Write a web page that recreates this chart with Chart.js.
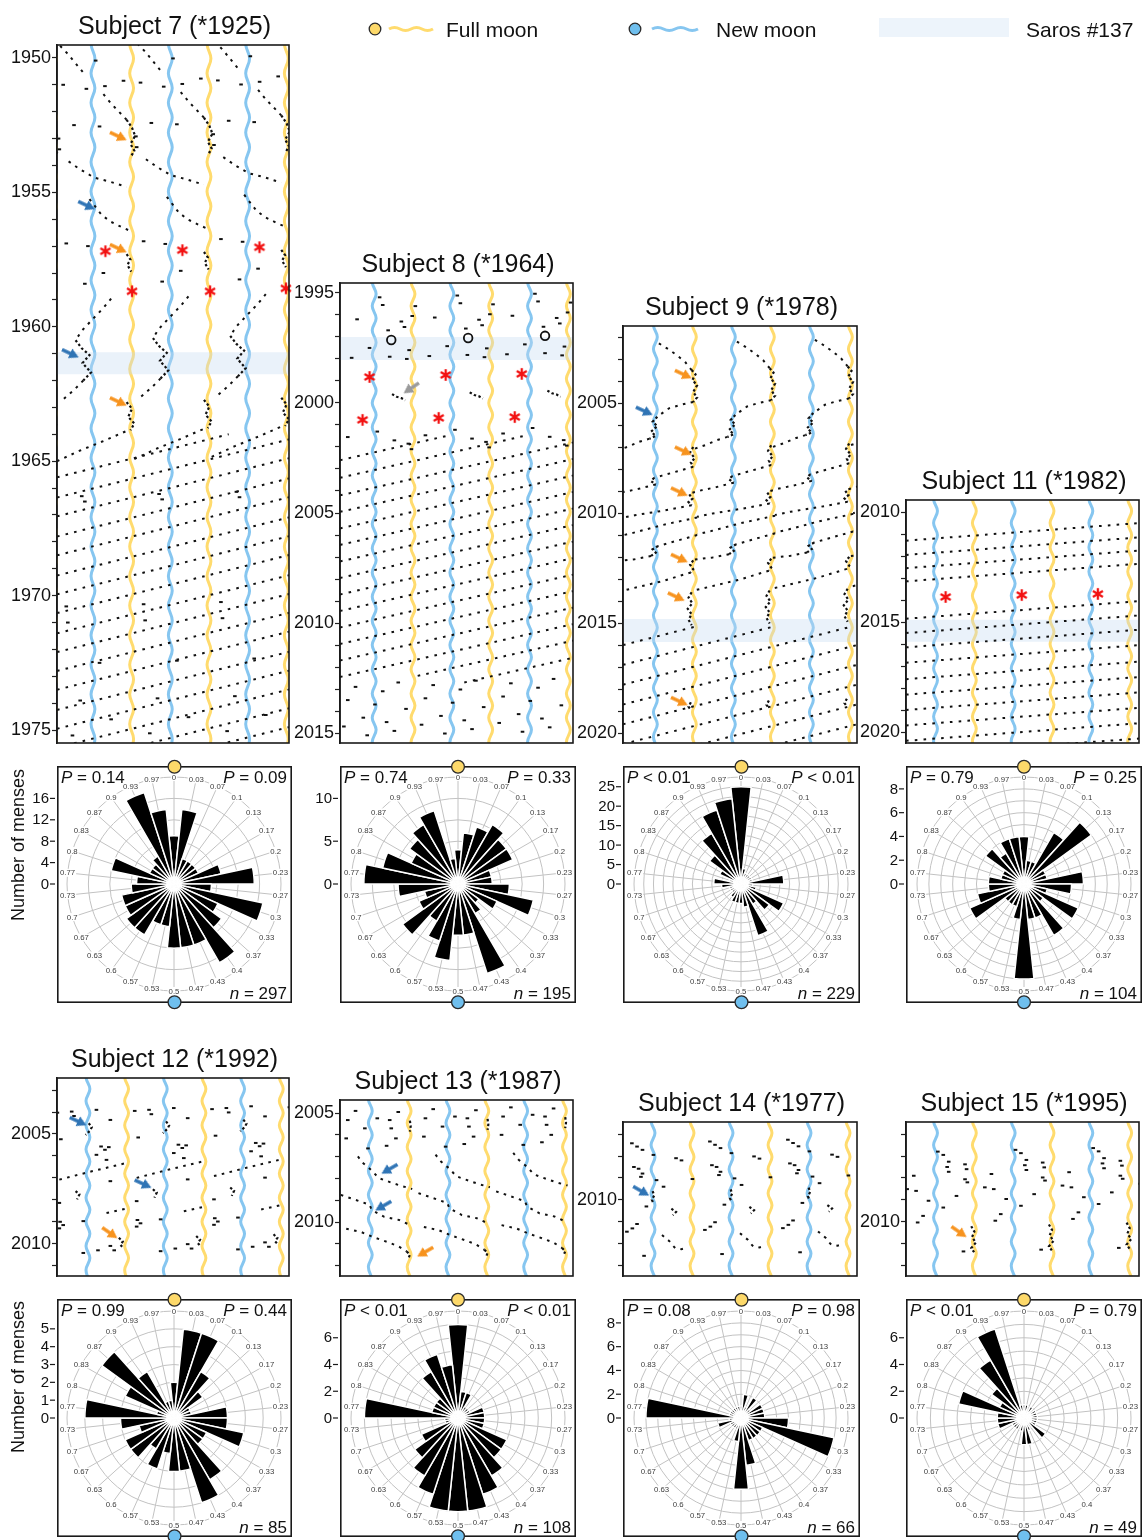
<!DOCTYPE html>
<html>
<head>
<meta charset="utf-8">
<title>Menses onset vs. lunar phase</title>
<script src="https://cdn.jsdelivr.net/npm/chart.js@4.4.1/dist/chart.umd.min.js"></script>
<style>
  html, body { margin: 0; padding: 0; background: #fff; }
  body { position: relative; width: 1142px; height: 1540px; overflow: hidden;
         font-family: "Liberation Sans", Arial, sans-serif; color: #111; }
  canvas { position: absolute; }
  .txt { position: absolute; white-space: nowrap; line-height: 1; }
</style>
</head>
<body>
<script>
// one actogram row = one synodic month, expressed in years
const MONTH = 29.53 / 365.25;
const FONT = '"Liberation Sans", Arial, sans-serif';

const phaseLabels = ["0", "0.03", "0.07", "0.1", "0.13", "0.17", "0.2", "0.23", "0.27", "0.3",
  "0.33", "0.37", "0.4", "0.43", "0.47", "0.5", "0.53", "0.57", "0.6", "0.63",
  "0.67", "0.7", "0.73", "0.77", "0.8", "0.83", "0.87", "0.9", "0.93", "0.97"];

// wiggle of the moon-phase lines (in months), alternating every ~half year
const moonWobble = [0.025, -0.025];

// ---------------- Subject 7 ----------------
const s7Years = [1949.52, 1975.48];
const s7NewMoon = 0.465;
const s7Saros = [1960.95, 1961.77];
// long free-running streaks, drawn across the whole plot
const s7Lines = [
  [[0, 1965.6], [2.22, 1964.0]], [[0, 1966.35], [3, 1964.19]], [[0, 1967.05], [3, 1964.89]],
  [[0, 1967.8], [3, 1965.64]], [[0, 1968.5], [3, 1966.34]], [[0, 1969.25], [3, 1967.09]],
  [[0, 1969.95], [3, 1967.79]], [[0, 1970.65], [3, 1968.49]], [[0, 1971.4], [3, 1969.24]],
  [[0, 1972.1], [3, 1969.94]], [[0, 1972.8], [3, 1970.64]], [[0, 1973.5], [3, 1971.34]],
  [[0, 1974.25], [3, 1972.09]], [[0, 1974.95], [3, 1972.79]], [[0, 1975.65], [3, 1973.49]],
  [[0, 1976.35], [3, 1974.19]], [[0, 1977.05], [3, 1974.89]], [[0, 1977.75], [3, 1975.59]]
];
// chains in first-column coordinates (repeated in every column of the triple plot)
const s7Tracks = [
  [[0.04, 1949.55], [0.14, 1949.85], [0.24, 1950.2], [0.34, 1950.55]],
  [[0.6, 1951.35], [0.7, 1951.7], [0.8, 1952.0], [0.9, 1952.3]],
  [[0.15, 1953.85], [0.3, 1954.15], [0.48, 1954.45], [0.68, 1954.6], [0.9, 1954.8]],
  [[0.42, 1955.25], [0.5, 1955.55], [0.58, 1955.85], [0.7, 1956.1], [0.84, 1956.3], [0.96, 1956.45]],
  [[0.7, 1958.95], [0.6, 1959.3], [0.45, 1959.75], [0.32, 1960.15], [0.24, 1960.5]],
  [[0.34, 1962.0], [0.22, 1962.35], [0.06, 1962.75]],
  [[0.0, 1965.0], [0.3, 1964.6], [0.6, 1964.25], [0.92, 1963.85]]
];
const s7Locks = [
  [[0.9, 1952.3], [0.97, 1952.6], [1.01, 1952.9], [0.95, 1953.2], [1.0, 1953.45], [0.96, 1953.65]],
  [[0.9, 1957.3], [0.95, 1957.5], [0.91, 1957.7], [0.96, 1957.95]],
  [[0.24, 1960.5], [0.32, 1960.8], [0.42, 1961.05], [0.33, 1961.35], [0.44, 1961.7], [0.34, 1962.0]],
  [[0.9, 1962.8], [0.97, 1963.05], [0.92, 1963.35], [1.0, 1963.6], [0.95, 1963.85]]
];
const s7Spots = [[0.08, 1951.0], [0.38, 1951.15], [0.86, 1950.85], [0.22, 1952.5], [0.4, 1957.0],
  [0.36, 1958.4], [0.32, 1966.3], [0.36, 1966.5], [0.12, 1970.4], [0.14, 1971.0], [0.55, 1972.5],
  [0.3, 1973.9], [0.7, 1974.6], [0.2, 1975.2], [0.02, 1953.0], [0.03, 1953.4], [0.55, 1952.55],
  [0.12, 1956.9], [0.6, 1958.0], [0.5, 1950.1], [0.62, 1951.05]];
const s7Stars = [[0.626, 1957.19], [1.622, 1957.15], [2.618, 1957.04], [0.97, 1958.68], [1.98, 1958.68], [2.96, 1958.57]];
const s7Arrows = [[0.79, 1952.91, 25, "orange"], [0.79, 1957.08, 25, "orange"], [0.79, 1962.78, 25, "orange"],
  [0.38, 1955.48, 25, "blue"], [0.17, 1960.99, 25, "blue"]];
const s7Rose = [9, 14, 5, 5, 5, 5, 9, 15, 7, 17, 9, 11, 17, 12, 12, 12, 8, 8, 11, 11, 10, 10, 8, 7, 12, 5, 5, 6, 18, 14];
const s7RoseTicks = [0, 4, 8, 12, 16];

// ---------------- Subject 8 ----------------
const s8Years = [1994.55, 2015.45];
const s8NewMoon = 0.44;
const s8Saros = [1997.0, 1998.05];
const s8Lines = [
  [[0, 2002.6], [1.37, 2001.5]], [[0, 2003.4], [2.37, 2001.5]], [[0, 2004.2], [3, 2001.8]],
  [[0, 2004.95], [3, 2002.55]], [[0, 2005.7], [3, 2003.3]], [[0, 2006.45], [3, 2004.05]],
  [[0, 2007.2], [3, 2004.8]], [[0, 2007.95], [3, 2005.55]], [[0, 2008.7], [3, 2006.3]],
  [[0, 2009.45], [3, 2007.05]], [[0, 2010.2], [3, 2007.8]], [[0, 2010.95], [3, 2008.55]],
  [[0, 2011.7], [3, 2009.3]], [[0, 2012.45], [3, 2010.05]], [[1.0, 2012.4], [3, 2010.8]],
  [[1.6, 2012.7], [3, 2011.58]]
];
const s8Tracks = [];
const s8Locks = [[[0.67, 1999.6], [0.73, 1999.72], [0.79, 1999.78], [0.84, 1999.88]]];
const s8Spots = [[0.51, 1995.2], [0.55, 1995.55], [0.22, 1996.2], [0.79, 1996.3], [0.93, 1996.05],
  [0.83, 1996.55], [0.38, 1997.5], [0.64, 1997.9], [0.86, 1998.0], [0.89, 1997.6], [0.1, 2001.55],
  [0.7, 2001.7], [0.88, 2001.85], [0.92, 2002.1], [0.2, 2012.9], [0.55, 2013.1], [0.75, 2012.7],
  [0.1, 2013.5], [0.45, 2013.7], [0.85, 2013.9], [0.3, 2014.3], [0.6, 2014.5], [0.05, 2014.7],
  [0.7, 2014.9], [0.35, 2015.1], [0.97, 1995.6], [0.62, 1996.7], [0.15, 1997.95], [0.48, 2001.3]];
const s8Rings = [[0.66, 1997.14], [1.65, 1997.05], [2.64, 1996.95]];
const s8Stars = [[0.38, 1998.82], [1.36, 1998.73], [2.34, 1998.68], [0.29, 2000.77], [1.27, 2000.68], [2.25, 2000.64]];
const s8Arrows = [[0.92, 1999.32, 146, "gray"]];
const s8Rose = [4, 6, 7, 8, 7, 7, 4, 4, 6, 9, 5, 3, 4, 11, 6, 6, 9, 7, 5, 8, 5, 4, 7, 11, 9, 6, 7, 8, 9, 3];
const s8RoseTicks = [0, 5, 10];

// ---------------- Subject 9 ----------------
const s9Years = [2001.5, 2020.45];
const s9NewMoon = 0.415;
const s9Saros = [2014.82, 2015.86];
const s9Lines = [
  [[0, 2016.0], [0.94, 2015.15]], [[0, 2016.9], [1.94, 2015.15]], [[0, 2017.8], [2.94, 2015.15]],
  [[0, 2018.7], [3, 2016.0]], [[0, 2019.6], [3, 2016.9]], [[0, 2020.5], [3, 2017.8]],
  [[0, 2021.4], [3, 2018.7]], [[0, 2022.3], [3, 2019.6]], [[0, 2023.2], [3, 2020.5]]
];
const s9Tracks = [
  [[0.46, 2002.29], [0.58, 2002.55], [0.7, 2002.85], [0.8, 2003.15], [0.88, 2003.5]],
  [[0.9, 2004.95], [0.72, 2005.1], [0.59, 2005.24], [0.44, 2005.62]],
  [[0.34, 2006.62], [0.21, 2006.76], [0.06, 2006.99], [-0.1, 2007.18]],
  [[0.9, 2007.9], [0.7, 2008.1], [0.5, 2008.3], [0.4, 2008.4]],
  [[0.42, 2008.7], [0.2, 2008.9], [0.0, 2009.05], [-0.15, 2009.2]],
  [[0.88, 2009.65], [0.5, 2009.9], [0.15, 2010.1], [-0.05, 2010.25]],
  [[0.95, 2010.2], [0.5, 2010.55], [0.13, 2010.9], [-0.05, 2011.05]],
  [[0.95, 2011.0], [0.7, 2011.25], [0.45, 2011.5]],
  [[0.36, 2011.95], [0.15, 2012.1], [-0.1, 2012.2]],
  [[0.87, 2012.7], [0.5, 2013.1], [0.03, 2013.5], [-0.1, 2013.6]]
];
const s9Locks = [
  [[0.88, 2003.5], [0.93, 2003.7], [0.89, 2003.95], [0.95, 2004.2], [0.9, 2004.5], [0.95, 2004.75], [0.9, 2004.95]],
  [[0.44, 2005.62], [0.38, 2005.85], [0.44, 2006.05], [0.36, 2006.3], [0.42, 2006.5], [0.34, 2006.62]],
  [[0.9, 2007.0], [0.86, 2007.25], [0.92, 2007.5], [0.87, 2007.7], [0.9, 2007.9]],
  [[0.4, 2008.4], [0.36, 2008.55], [0.42, 2008.7]],
  [[0.85, 2009.15], [0.89, 2009.35], [0.84, 2009.5], [0.88, 2009.65]],
  [[0.45, 2011.5], [0.38, 2011.65], [0.42, 2011.8], [0.36, 2011.95]],
  [[0.9, 2012.15], [0.86, 2012.35], [0.9, 2012.55], [0.87, 2012.7]],
  [[0.88, 2013.6], [0.84, 2013.85], [0.89, 2014.1], [0.83, 2014.35], [0.88, 2014.6], [0.84, 2014.85], [0.88, 2015.1]],
  [[0.87, 2018.6], [0.84, 2018.8], [0.87, 2018.95]]
];
const s9Spots = [];
const s9Arrows = [[0.27, 2005.36, 25, "blue"], [0.77, 2003.69, 25, "orange"], [0.77, 2007.17, 25, "orange"],
  [0.72, 2009.03, 25, "orange"], [0.72, 2012.05, 25, "orange"], [0.68, 2013.8, 25, "orange"], [0.72, 2018.55, 25, "orange"]];
const s9Rose = [25, 4, 3, 3, 3, 3, 3, 11, 3, 4, 12, 9, 6, 14, 6, 5, 5, 5, 4, 3, 3, 3, 5, 7, 3, 6, 10, 15, 20, 22];
const s9RoseTicks = [0, 5, 10, 15, 20, 25];

// ---------------- Subject 11 ----------------
const s11Years = [2009.45, 2020.5];
const s11NewMoon = 0.38;
const s11Saros = [2014.9, 2015.9];
const s11Lines = [
  [[0, 2011.3], [3, 2010.5]], [[0, 2011.95], [3, 2011.15]], [[0, 2012.55], [3, 2011.75]], [[0, 2013.15], [3, 2012.35]],
  [[0, 2014.85], [3, 2014.05]], [[0, 2015.5], [3, 2014.7]], [[0, 2016.15], [3, 2015.35]], [[0, 2016.85], [3, 2016.05]],
  [[0, 2017.6], [3, 2016.8]], [[0, 2018.3], [3, 2017.5]], [[0, 2019.0], [3, 2018.2]], [[0, 2019.7], [3, 2018.9]],
  [[0, 2020.4], [3, 2019.6]], [[0.6, 2020.9], [3, 2020.3]]
];
const s11Stars = [[0.51, 2013.86], [1.49, 2013.77], [2.47, 2013.72]];
const s11Rose = [4, 2, 2, 5, 7, 2, 2, 5, 4, 2, 5, 2, 5, 3, 3, 8, 3, 2, 2, 2, 5, 4, 3, 3, 2, 2, 4, 3, 4, 4];
const s11RoseTicks = [0, 2, 4, 6, 8];

// ---------------- Subject 12 ----------------
const s12Years = [2002.45, 2011.47];
const s12NewMoon = 0.4;
const s12Tracks = [
  [[0.03, 2007.08], [0.45, 2006.7], [0.9, 2006.32]],
  [[0.64, 2008.6], [0.9, 2008.4]]
];
const s12Locks = [
  [[0.41, 2004.51], [0.45, 2004.69], [0.43, 2004.84], [0.37, 2005.04]],
  [[0.24, 2007.6], [0.29, 2007.75], [0.26, 2007.98]],
  [[0.8, 2009.73], [0.85, 2009.9], [0.82, 2010.05], [0.86, 2010.2]]
];
const s12Spots = [[0.005, 2004.03], [0.19, 2003.98], [0.22, 2004.18], [0.51, 2003.9], [0.69, 2004.36],
  [0.05, 2005.24], [0.57, 2005.57], [0.62, 2005.72], [0.67, 2005.6], [0.51, 2005.95], [0.64, 2006.18],
  [0.03, 2008.14], [0.69, 2007.15], [0.34, 2008.97], [0.04, 2009.0], [0.08, 2009.15], [0.03, 2009.3],
  [0.34, 2010.42], [0.53, 2010.3], [0.69, 2010.1], [0.74, 2010.3]];
const s12Arrows = [[0.27, 2004.42, 25, "blue"], [1.11, 2007.27, 25, "blue"], [0.68, 2009.5, 35, "orange"]];
const s12Rose = [2, 5, 5, 3, 2, 1, 1, 3, 3, 4, 2, 2, 4, 5, 3, 3, 2, 3, 2, 3, 3, 2, 3, 5, 1, 3, 5, 3, 1, 1];
const s12RoseTicks = [0, 1, 2, 3, 4, 5];

// ---------------- Subject 13 ----------------
const s13Years = [2004.4, 2012.47];
const s13NewMoon = 0.39;
const s13Tracks = [
  [[0.23, 2006.99], [0.3, 2007.3], [0.4, 2007.6], [0.5, 2007.98], [0.67, 2008.2], [0.8, 2008.35], [0.93, 2008.48]],
  [[0.01, 2008.75], [0.2, 2008.98], [0.38, 2009.2], [0.41, 2009.45], [0.57, 2009.76], [0.76, 2009.9], [0.9, 2010.13]],
  [[0.08, 2010.3], [0.27, 2010.45], [0.43, 2010.69], [0.6, 2010.9], [0.75, 2011.1], [0.86, 2011.35]]
];
const s13Locks = [
  [[0.86, 2011.35], [0.9, 2011.5], [0.88, 2011.67]],
  [[0.9, 2005.35], [0.91, 2005.6], [0.9, 2005.85]]
];
const s13Spots = [[0.1, 2005.32], [0.32, 2005.7], [0.48, 2005.24], [0.64, 2005.32], [0.66, 2005.7],
  [0.72, 2006.16], [0.08, 2006.16], [0.36, 2006.62], [0.6, 2006.5], [0.2, 2004.9], [0.75, 2004.95]];
const s13Arrows = [[0.64, 2007.56, 150, "blue"], [0.56, 2009.25, 150, "blue"], [1.1, 2011.36, 150, "orange"]];
const s13Rose = [7, 2, 2, 1, 1, 1, 2, 2, 2, 2, 4, 4, 5, 6, 7, 7, 7, 6, 5, 4, 3, 1, 1, 7, 2, 2, 2, 4, 5, 4];
const s13RoseTicks = [0, 2, 4, 6];

// ---------------- Subject 14 ----------------
const s14Years = [2006.45, 2013.47];
const s14NewMoon = 0.385;
const s14Tracks = [[[0.5, 2011.6], [0.55, 2011.75], [0.6, 2011.9], [0.63, 2012.05], [0.67, 2012.2], [0.75, 2012.25], [0.8, 2012.2]]];
const s14Locks = [
  [[0.38, 2009.6], [0.4, 2009.8], [0.37, 2010.0], [0.39, 2010.15]],
  [[0.62, 2010.4], [0.68, 2010.55], [0.64, 2010.7]]
];
const s14Spots = [[0.114, 2007.42], [0.18, 2007.57], [0.25, 2007.72], [0.39, 2007.95], [0.68, 2008.1],
  [0.75, 2008.2], [0.14, 2008.5], [0.2, 2008.58], [0.25, 2008.8], [0.23, 2008.95], [0.43, 2009.1],
  [0.52, 2009.4], [0.3, 2010.3], [0.05, 2011.45], [0.12, 2011.3], [0.18, 2011.1], [0.27, 2012.55], [0.89, 2009.05]];
const s14Arrows = [[0.23, 2009.59, 30, "blue"]];
const s14Rose = [1, 2, 1, 2, 1, 2, 2, 2, 4, 8, 2, 2, 2, 2, 4, 6, 2, 1, 1, 1, 1, 2, 1, 8, 1, 1, 1, 1, 1, 1];
const s14RoseTicks = [0, 2, 4, 6, 8];

// ---------------- Subject 15 ----------------
const s15Years = [2005.45, 2012.47];
const s15NewMoon = 0.38;
const s15Locks = [[[0.84, 2010.2], [0.88, 2010.45], [0.85, 2010.7], [0.9, 2010.95], [0.84, 2011.2], [0.88, 2011.4]]];
const s15Spots = [[0.41, 2006.8], [0.48, 2006.95], [0.55, 2007.26], [0.53, 2007.5], [0.55, 2007.72],
  [0.76, 2007.38], [0.78, 2007.6], [0.76, 2008.06], [0.79, 2008.2], [0.1, 2007.9], [0.015, 2008.51],
  [0.13, 2008.59], [0.29, 2009.04], [0.65, 2008.82], [0.48, 2009.35], [0.22, 2009.73], [0.15, 2010.03], [0.74, 2011.35]];
const s15Arrows = [[0.68, 2010.45, 35, "orange"]];
const s15Rose = [1, 1, 0, 1, 0, 1, 1, 1, 1, 1, 1, 2, 0, 1, 2, 2, 1, 0, 1, 1, 1, 2, 2, 2, 5, 2, 3, 5, 7, 1];
const s15RoseTicks = [0, 2, 4, 6];

// ---------------- panel table ----------------
const subjects = [
  { box: [57, 45, 235, 698], roseTop: 766, roseH: 237, title: "Subject 7 (*1925)",
    years: s7Years, newMoon: s7NewMoon, saros: s7Saros, lines: s7Lines, tracks: s7Tracks, locks: s7Locks,
    spots: s7Spots, stars: s7Stars, arrows: s7Arrows,
    rose: s7Rose, roseMax: 20, roseStep: 4, roseTicks: s7RoseTicks, pL: "= 0.14", pR: "= 0.09", n: 297 },
  { box: [340, 283, 236, 460], roseTop: 766, roseH: 237, title: "Subject 8 (*1964)",
    years: s8Years, newMoon: s8NewMoon, saros: s8Saros, lines: s8Lines, tracks: s8Tracks, locks: s8Locks,
    spots: s8Spots, rings: s8Rings, stars: s8Stars, arrows: s8Arrows,
    rose: s8Rose, roseMax: 12.5, roseStep: 2.5, roseTicks: s8RoseTicks, pL: "= 0.74", pR: "= 0.33", n: 195 },
  { box: [623, 326, 237, 417], roseTop: 766, roseH: 237, title: "Subject 9 (*1978)",
    years: s9Years, newMoon: s9NewMoon, saros: s9Saros, lines: s9Lines, tracks: s9Tracks, locks: s9Locks,
    spots: s9Spots, arrows: s9Arrows,
    rose: s9Rose, roseMax: 27.5, roseStep: 2.5, roseTicks: s9RoseTicks, pL: "&lt; 0.01", pR: "&lt; 0.01", n: 229 },
  { box: [906, 500, 236, 243], roseTop: 766, roseH: 237, title: "Subject 11 (*1982)",
    years: s11Years, newMoon: s11NewMoon, saros: s11Saros, lines: s11Lines, stars: s11Stars,
    rose: s11Rose, roseMax: 9, roseStep: 1, roseTicks: s11RoseTicks, pL: "= 0.79", pR: "= 0.25", n: 104 },
  { box: [57, 1078, 235, 198], roseTop: 1299, roseH: 238, title: "Subject 12 (*1992)",
    years: s12Years, newMoon: s12NewMoon, tracks: s12Tracks, locks: s12Locks, spots: s12Spots, arrows: s12Arrows,
    rose: s12Rose, roseMax: 6, roseStep: 1, roseTicks: s12RoseTicks, pL: "= 0.99", pR: "= 0.44", n: 85 },
  { box: [340, 1100, 236, 176], roseTop: 1299, roseH: 238, title: "Subject 13 (*1987)",
    years: s13Years, newMoon: s13NewMoon, tracks: s13Tracks, locks: s13Locks, spots: s13Spots, arrows: s13Arrows,
    rose: s13Rose, roseMax: 8, roseStep: 1, roseTicks: s13RoseTicks, pL: "&lt; 0.01", pR: "&lt; 0.01", n: 108 },
  { box: [623, 1122, 237, 154], roseTop: 1299, roseH: 238, title: "Subject 14 (*1977)",
    years: s14Years, newMoon: s14NewMoon, tracks: s14Tracks, locks: s14Locks, spots: s14Spots, arrows: s14Arrows,
    rose: s14Rose, roseMax: 9, roseStep: 1, roseTicks: s14RoseTicks, pL: "= 0.08", pR: "= 0.98", n: 66 },
  { box: [906, 1122, 236, 154], roseTop: 1299, roseH: 238, title: "Subject 15 (*1995)",
    years: s15Years, newMoon: s15NewMoon, locks: s15Locks, spots: s15Spots, arrows: s15Arrows,
    rose: s15Rose, roseMax: 8, roseStep: 1, roseTicks: s15RoseTicks, pL: "&lt; 0.01", pR: "= 0.79", n: 49 }
];

const COLORS = { blueLine: "#86c6f0", yellowLine: "#ffdb6e", band: "rgba(196,219,242,0.36)",
  orange: "#f7931e", blue: "#2f74b5", gray: "#9a9a9a", dot: "#111" };

// ---------------- helpers ----------------
function makeCanvas(left, top, w, h) {
  const c = document.createElement("canvas");
  c.width = w; c.height = h;
  Object.assign(c.style, { left: left + "px", top: top + "px", width: w + "px", height: h + "px" });
  document.body.appendChild(c);
  return c;
}

function addText(html, x, baseline, size, align, extra) {
  const d = document.createElement("div");
  d.className = "txt";
  d.innerHTML = html;
  d.style.fontSize = size + "px";
  d.style.top = (baseline - 0.8465 * size) + "px";
  if (align === "center") { d.style.left = x + "px"; d.style.transform = "translateX(-50%)"; }
  else if (align === "right") { d.style.right = (1142 - x) + "px"; }
  else { d.style.left = x + "px"; }
  if (extra) Object.assign(d.style, extra);
  document.body.appendChild(d);
  return d;
}

const TRIPLE = [-1, 0, 1, 2, 3];

// polylines -> one dataset with null gaps; ks = column copies of the triple plot
function polyData(polys, ks) {
  const out = [];
  ks.forEach(k => {
    (polys || []).forEach(poly => {
      poly.forEach(([p, yr]) => out.push({ x: p + k, y: yr - k * MONTH }));
      out.push({ x: null, y: null });
    });
  });
  return out;
}

function pointData(points, ks) {
  const out = [];
  ks.forEach(k => (points || []).forEach(([p, yr]) => out.push({ x: p + k, y: yr - k * MONTH })));
  return out;
}

function moonLine(phase, years) {
  const out = [];
  for (let k = -1; k <= 3; k++) {
    let i = 0;
    for (let yr = years[0] - 0.6; yr <= years[1] + 0.6; yr += 0.55, i++) {
      out.push({ x: phase + k + moonWobble[i % 2], y: yr });
    }
    out.push({ x: null, y: null });
  }
  return out;
}

function makeStar() {
  const c = document.createElement("canvas");
  c.width = c.height = 14;
  const g = c.getContext("2d");
  g.strokeStyle = "#f21212"; g.lineWidth = 2.3;
  for (let i = 0; i < 3; i++) {
    const a = Math.PI / 2 + i * Math.PI / 3;
    g.beginPath();
    g.moveTo(7 - 5.8 * Math.cos(a), 7 - 5.8 * Math.sin(a));
    g.lineTo(7 + 5.8 * Math.cos(a), 7 + 5.8 * Math.sin(a));
    g.stroke();
  }
  return c;
}

function makeArrow(color) {
  const c = document.createElement("canvas");
  c.width = 20; c.height = 12;
  const g = c.getContext("2d");
  g.fillStyle = color;
  g.fillRect(1, 4.3, 11, 3.4);
  g.beginPath(); g.moveTo(19.5, 6); g.lineTo(10, 0.8); g.lineTo(10, 11.2); g.closePath(); g.fill();
  return c;
}

const starImg = makeStar();
const arrowImg = { orange: makeArrow(COLORS.orange), blue: makeArrow(COLORS.blue), gray: makeArrow(COLORS.gray) };

const framePlugin = {
  id: "frame",
  afterDatasetsDraw(chart) {
    const a = chart.chartArea, g = chart.ctx;
    g.save();
    g.strokeStyle = "#1a1a1a"; g.lineWidth = 1.6;
    g.strokeRect(a.left, a.top, a.right - a.left, a.bottom - a.top);
    g.restore();
  }
};

// ---------------- actogram ----------------
function drawActogram(s) {
  const [bx, by, bw, bh] = s.box;
  const AX = 52, PT = 12, PB = 12, PR = 4;
  const c = makeCanvas(bx - AX, by - PT, bw + AX + PR, bh + PT + PB);
  const datasets = [];

  datasets.push({ data: moonLine(s.newMoon, s.years), borderColor: COLORS.blueLine, borderWidth: 3,
    pointRadius: 0, tension: 0.4, spanGaps: false, clip: 0, order: 5 });
  datasets.push({ data: moonLine(s.newMoon + 0.5, s.years), borderColor: COLORS.yellowLine, borderWidth: 3,
    pointRadius: 0, tension: 0.4, spanGaps: false, clip: 0, order: 5 });

  if (s.saros) {
    datasets.push({ data: [{ x: 0, y: s.saros[0] }, { x: 3, y: s.saros[0] }], fill: { value: s.saros[1] },
      backgroundColor: COLORS.band, borderColor: "transparent", borderWidth: 0, pointRadius: 0, clip: 0, order: 4 });
  }

  const dotLine = { borderColor: COLORS.dot, pointRadius: 0, tension: 0, spanGaps: false, clip: 0, order: 2, fill: false };
  datasets.push(Object.assign({ data: polyData(s.lines, [0]), borderWidth: 2, borderDash: [2.6, 6.2] }, dotLine));
  datasets.push(Object.assign({ data: polyData(s.tracks, TRIPLE), borderWidth: 2, borderDash: [2.6, 5.4] }, dotLine));
  datasets.push(Object.assign({ data: polyData(s.locks, TRIPLE), borderWidth: 2.2, borderDash: [2.4, 2.4] }, dotLine));
  datasets.push({ data: pointData(s.spots, TRIPLE), showLine: false, pointStyle: "line", pointRadius: 1.8,
    pointBorderWidth: 2, pointBorderColor: COLORS.dot, clip: 0, order: 2 });

  if (s.rings) {
    datasets.push({ data: s.rings.map(([x, y]) => ({ x, y })), showLine: false, pointStyle: "circle", pointRadius: 4.3,
      pointBorderWidth: 1.8, pointBorderColor: "#111", pointBackgroundColor: "rgba(255,255,255,0)", order: 1, clip: false });
  }
  if (s.stars) {
    datasets.push({ data: s.stars.map(([x, y]) => ({ x, y })), showLine: false, pointStyle: starImg,
      pointRadius: 6, order: 0, clip: false });
  }
  ["orange", "blue", "gray"].forEach(col => {
    const list = (s.arrows || []).filter(a => a[3] === col);
    if (!list.length) return;
    datasets.push({ data: list.map(([x, y, r]) => ({ x, y, r })), showLine: false, pointStyle: arrowImg[col],
      pointRadius: 6, pointRotation: ctx => (ctx.raw ? ctx.raw.r : 0), order: 0, clip: false });
  });

  new Chart(c, {
    type: "line",
    data: { datasets },
    options: {
      responsive: false, animation: false, events: [],
      layout: { padding: { top: PT, bottom: PB, right: PR, left: 0 } },
      plugins: { legend: { display: false }, tooltip: { enabled: false } },
      scales: {
        x: { type: "linear", min: 0, max: 3, display: false },
        y: {
          type: "linear", reverse: true, min: s.years[0], max: s.years[1],
          afterFit: sc => { sc.width = AX; },
          ticks: {
            stepSize: 1, includeBounds: false, autoSkip: false, padding: 1, color: "#111",
            font: { size: 18, family: FONT },
            callback: v => (Math.abs(v - Math.round(v)) < 1e-6 && Math.round(v) % 5 === 0) ? String(Math.round(v)) : ""
          },
          grid: { drawOnChartArea: false, tickLength: 5, tickColor: "#222", tickWidth: 1.2 },
          border: { display: true, color: "#1a1a1a", width: 1.6 }
        }
      }
    },
    plugins: [framePlugin]
  });

  addText(s.title, bx + bw / 2, by - 11, 25, "center");
}

// ---------------- rose diagram ----------------
function moonDot(g, x, y, fill) {
  g.beginPath(); g.arc(x, y, 6.4, 0, Math.PI * 2);
  g.fillStyle = fill; g.fill();
  g.lineWidth = 1.3; g.strokeStyle = "#2a2a2a"; g.stroke();
}

function drawRose(s) {
  const [bx, , bw] = s.box;
  const top = s.roseTop, rh = s.roseH;
  const LX = 48, TY = 8, R = 107;
  const c = makeCanvas(bx - LX, top - TY, bw + LX, rh + 2 * TY);
  const padX = (bw - 2 * R) / 2, padY = (rh - 2 * R) / 2;

  const decor = {
    id: "roseDecor",
    beforeDatasetsDraw(chart) {
      const sc = chart.scales.rg, g = chart.ctx;
      g.save();
      g.font = "7.8px " + FONT; g.textAlign = "center"; g.textBaseline = "middle";
      phaseLabels.forEach((lab, i) => {
        const pos = sc.getPointPosition(i, sc.drawingArea);
        const tw = g.measureText(lab).width;
        g.fillStyle = "#fff"; g.fillRect(pos.x - tw / 2 - 1, pos.y - 4, tw + 2, 8);
        g.fillStyle = "#3c3c3c"; g.fillText(lab, pos.x, pos.y + 0.5);
      });
      g.restore();
    },
    afterDraw(chart) {
      const sc = chart.scales.rg, g = chart.ctx;
      g.save();
      g.strokeStyle = "#1a1a1a"; g.lineWidth = 1.6;
      g.strokeRect(LX + 0.8, TY + 0.8, bw - 1.6, rh - 1.6);
      g.font = "15px " + FONT; g.textAlign = "right"; g.textBaseline = "middle"; g.fillStyle = "#111";
      g.lineWidth = 1.2;
      s.roseTicks.forEach(v => {
        const y = sc.yCenter - sc.getDistanceFromCenterForValue(v);
        g.fillText(String(v), LX - 8, y + 0.5);
        g.beginPath(); g.moveTo(LX - 7, y); g.lineTo(LX - 2, y); g.stroke();
      });
      const cx = LX + bw / 2;
      moonDot(g, cx, TY + 0.8, "#fdd96a");
      moonDot(g, cx, TY + rh - 0.8, "#6fbfee");
      g.restore();
    }
  };

  new Chart(c, {
    type: "polarArea",
    data: {
      labels: phaseLabels,
      datasets: [{ data: s.rose, backgroundColor: "#000", borderColor: "#fff", borderWidth: 1.5, rAxisID: "r" }]
    },
    options: {
      responsive: false, animation: false, events: [],
      layout: { padding: { left: LX + padX, right: padX, top: TY + padY, bottom: TY + padY } },
      plugins: { legend: { display: false }, tooltip: { enabled: false } },
      scales: {
        rg: {
          type: "radialLinear", axis: "r", startAngle: 0, min: 0, max: s.roseMax,
          ticks: { display: false, stepSize: s.roseStep },
          grid: { circular: true, color: "#c2c2c2", lineWidth: 1 },
          angleLines: { display: true, color: "#c2c2c2", lineWidth: 1 },
          pointLabels: { display: false }
        },
        r: {
          type: "radialLinear", startAngle: -6, min: 0, max: s.roseMax,
          ticks: { display: false, stepSize: s.roseStep },
          grid: { display: false }, angleLines: { display: false }, pointLabels: { display: false }
        }
      }
    },
    plugins: [decor]
  });

  addText("<i>P</i> " + s.pL, bx + 4, top + 17, 17, "left");
  addText("<i>P</i> " + s.pR, bx + bw - 5, top + 17, 17, "right");
  addText("<i>n</i> = " + s.n, bx + bw - 5, top + rh - 4, 17, "right");
}

subjects.forEach(s => { drawActogram(s); drawRose(s); });

// y-axis titles of the rose rows
[845, 1377].forEach(cy => {
  const d = document.createElement("div");
  d.className = "txt";
  d.textContent = "Number of menses";
  Object.assign(d.style, { fontSize: "18px", left: "18px", top: cy + "px",
    transform: "translate(-50%, -50%) rotate(-90deg)" });
  document.body.appendChild(d);
});

// legend
const legend = document.createElement("div");
legend.innerHTML =
  '<svg width="1142" height="50" style="position:absolute;left:0;top:0">' +
  '<circle cx="375" cy="29" r="5.8" fill="#fdd96a" stroke="#2a2a2a" stroke-width="1.3"/>' +
  '<path d="M389 29 q5.5 -3.2 11 0 t11 0 t11 0 t11 0" fill="none" stroke="' + COLORS.yellowLine + '" stroke-width="3"/>' +
  '<circle cx="635" cy="29" r="5.8" fill="#6fbfee" stroke="#2a2a2a" stroke-width="1.3"/>' +
  '<path d="M652 29 q5.75 -3.2 11.5 0 t11.5 0 t11.5 0 t11.5 0" fill="none" stroke="' + COLORS.blueLine + '" stroke-width="3"/>' +
  '<rect x="879" y="18" width="130" height="19" fill="#edf4fb"/>' +
  '</svg>';
document.body.appendChild(legend);
addText("Full moon", 446, 36.5, 21, "left");
addText("New moon", 716, 36.5, 21, "left");
addText("Saros #137", 1026, 36.5, 21, "left");
</script>
</body>
</html>
